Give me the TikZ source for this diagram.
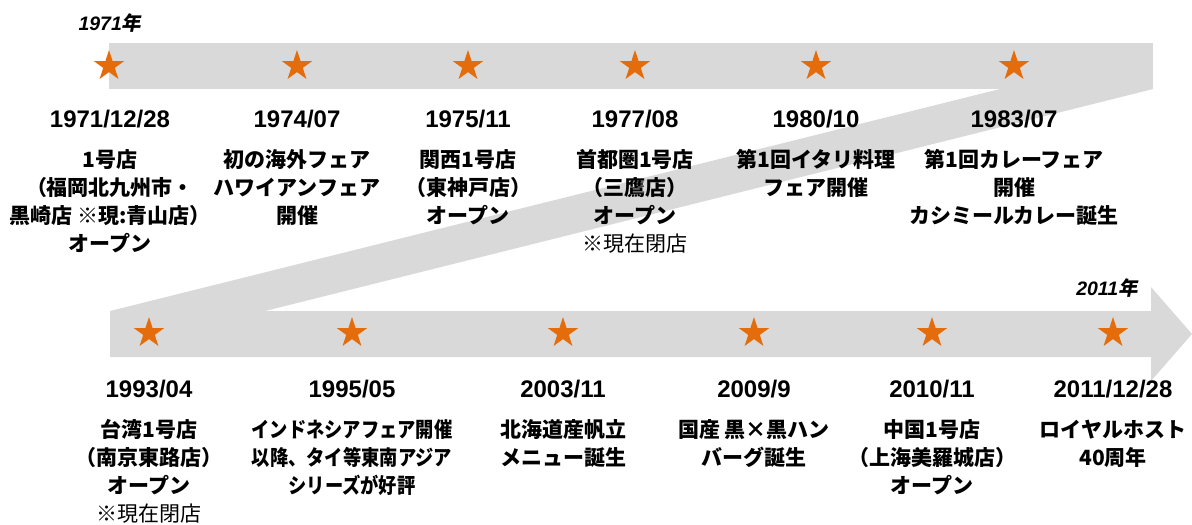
\documentclass[tikz,border=0pt]{standalone}
\usepackage{fontspec}
\usetikzlibrary{shapes.geometric}
\newfontfamily\jp{Noto Sans CJK JP}
\newfontfamily\jpc{Noto Sans CJK JP}[FakeStretch=0.87]
\newfontfamily\jpi{Noto Sans CJK JP}[FakeSlant=0.2]
\newfontfamily\dtf{Liberation Sans}
\definecolor{band}{HTML}{D9D9D9}
\definecolor{starorange}{HTML}{E46C0A}
\newcommand\evt[5]{%
  \node[datestyle] (#1d) at (#2,#3) {#4};
  \foreach \lineT [count=\k] in {#5} {
    \node[linestyle] (#1l\k) at (#2,{#3+12+28*\k}) {\lineT};
  }%
}
\begin{document}
\begin{tikzpicture}[x=1pt,y=-1pt,
  datestyle/.style={anchor=base,inner sep=0pt,font=\dtf\bfseries\fontsize{24}{24}\selectfont},
  linestyle/.style={anchor=base,inner sep=0pt,font=\jp\bfseries\fontsize{21}{21}\selectfont},
  yearstyle/.style={anchor=base,inner sep=0pt,font=\fontsize{19.5}{19.5}\selectfont},
  mstar/.style={star,star points=5,star point ratio=2.618,fill=starorange,draw=none,minimum size=32pt,inner sep=0pt}]
\useasboundingbox (0,0) rectangle (1192,525);
% bands
\fill[band] (109,43) rectangle (1153,89);
\fill[band] (110,311) -- (265,311) -- (1153,89) -- (1000,89) -- cycle;
\fill[band] (110,311) -- (1151,311) -- (1151,287) -- (1192,334) -- (1151,381) -- (1151,357) -- (110,357) -- cycle;
% year labels
\node[yearstyle] (y1971) at (110,30) {\dtf\bfseries\itshape 1971\jpi\bfseries 年};
\node[yearstyle] (y2011) at (1107,295) {\dtf\bfseries\itshape 2011\jpi\bfseries 年};
% stars top
\foreach \sx [count=\i] in {109,297,468,635,816,1014} {
  \node[mstar] (st\i) at (\sx,66) {};
}
% stars bottom
\foreach \sx [count=\i] in {149,352,563,754,932,1113} {
  \node[mstar] (sb\i) at (\sx,333) {};
}
% top events
\evt{a}{110}{127}{1971/12/28}{{1号店},{（福岡北九州市・},{黒崎店 ※現:青山店）},{オープン}}
\evt{b}{297}{127}{1974/07}{{初の海外フェア},{ハワイアンフェア},{開催}}
\evt{c}{468}{127}{1975/11}{{関西1号店},{（東神戸店）},{オープン}}
\evt{d}{635}{127}{1977/08}{{首都圏1号店},{（三鷹店）},{オープン},{\mdseries ※現在閉店}}
\evt{e}{816}{127}{1980/10}{{第1回イタリ料理},{フェア開催}}
\evt{f}{1014}{127}{1983/07}{{第1回カレーフェア},{開催},{カシミールカレー誕生}}
% bottom events
\evt{g}{149}{397}{1993/04}{{台湾1号店},{（南京東路店）},{オープン},{\mdseries ※現在閉店}}
\evt{h}{352}{397}{1995/05}{{\jpc\bfseries インドネシアフェア開催},{\jpc\bfseries 以降、タイ等東南アジア},{\jpc\bfseries シリーズが好評}}
\evt{i}{563}{397}{2003/11}{{北海道産帆立},{メニュー誕生}}
\evt{j}{754}{397}{2009/9}{{国産 黒×黒ハン},{バーグ誕生}}
\evt{k}{932}{397}{2010/11}{{中国1号店},{（上海美羅城店）},{オープン}}
\evt{m}{1113}{397}{2011/12/28}{{ロイヤルホスト},{40周年}}
\end{tikzpicture}
\end{document}
